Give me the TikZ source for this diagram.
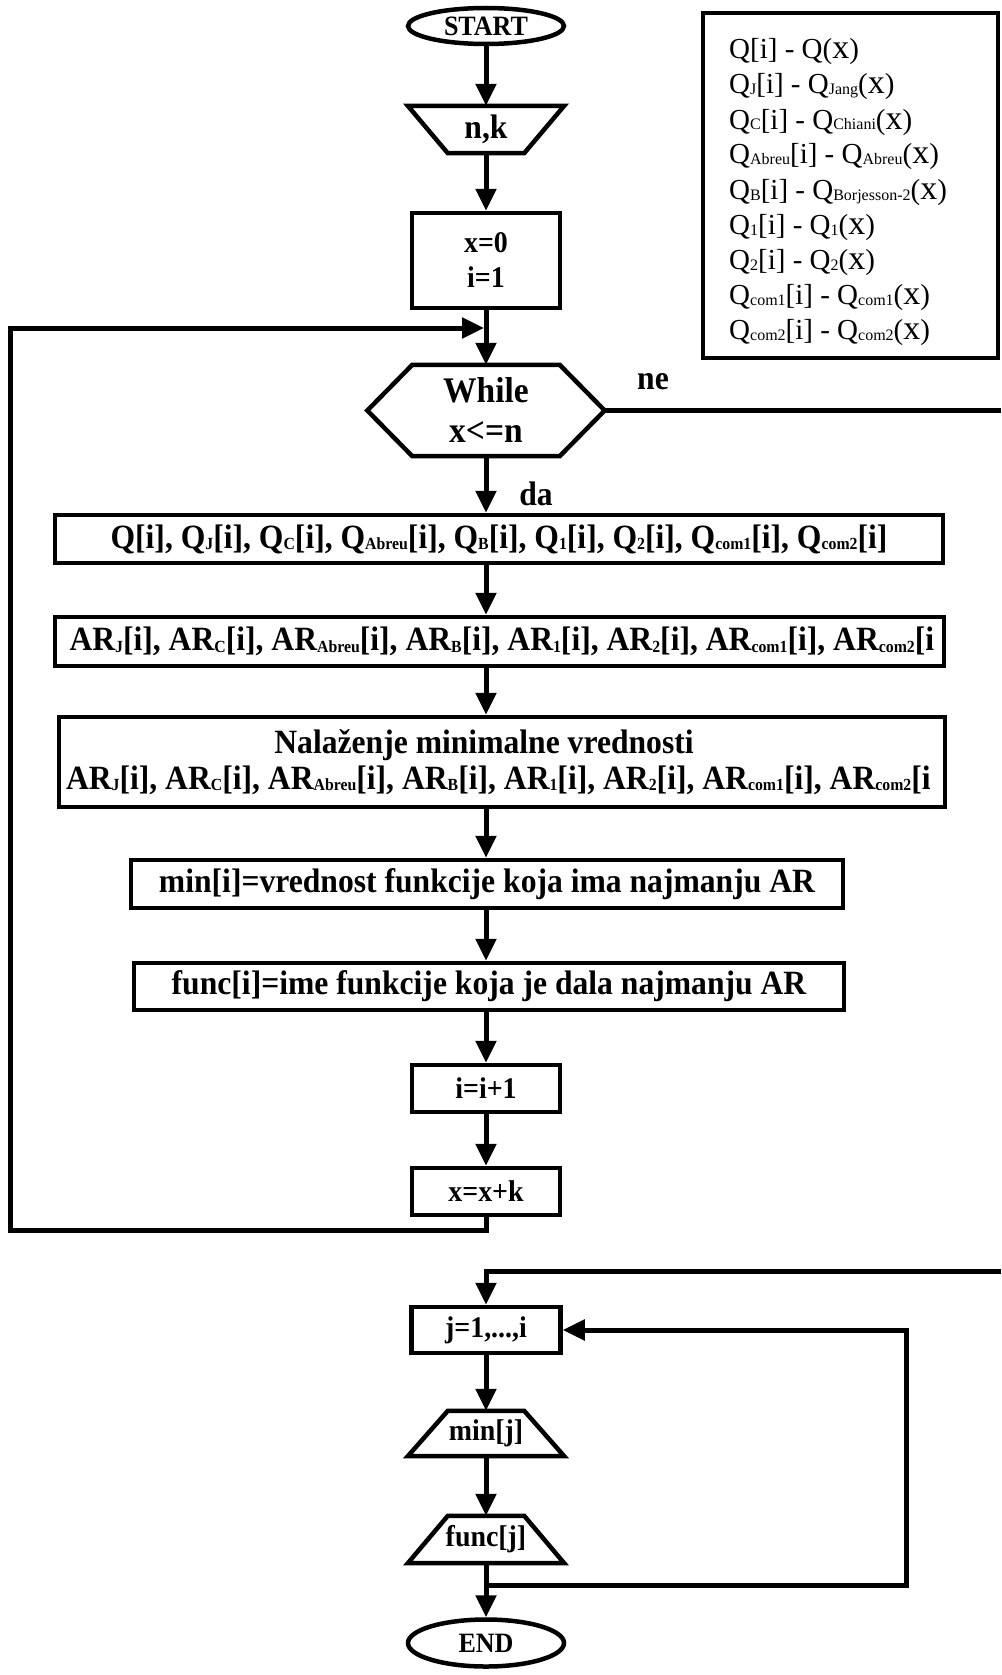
\documentclass[tikz,border=0pt]{standalone}
\usepackage{fontspec}
\setmainfont{Liberation Serif}
\newfontfamily\bc{Liberation Serif}[FakeStretch=0.93]
\usetikzlibrary{arrows.meta,shapes.geometric}
\newcommand\ls[1]{\raisebox{-1pt}{\fontsize{16}{16}\selectfont #1}}
\newcommand\bs[1]{\raisebox{-1.5pt}{\fontsize{17}{17}\selectfont #1}}
\newcommand\bx{{\fontsize{34}{34}\selectfont x}}
\begin{document}
\begin{tikzpicture}[x=1pt,y=-1pt,
  bt/.style={font={\bc\bfseries\fontsize{34}{36}\selectfont}},
  st/.style={font={\bc\bfseries\fontsize{30}{35}\selectfont}},
  bxx/.style={draw, line width=4.5pt, inner sep=0pt},
  shp/.style={inner sep=0pt},
  ln/.style={line width=5pt},
  arr/.style={line width=5pt,-{Triangle[length=22pt,width=20pt]}},
  lg/.style={anchor=base west, inner sep=0pt, font={\fontsize{29}{35}\selectfont}},
  bord/.style={line width=4.5pt, line join=miter}]
\useasboundingbox (0,0) rectangle (1001,1675);
\fill[white] (0,0) rectangle (1001,1675);

% ---- legend ----
\node[draw, line width=4pt, minimum width=295pt, minimum height=345pt, inner sep=0pt] (leg) at (850.5,185.5) {};
\node[lg] (l1) at (729,59)  {Q[i] - Q(\bx)};
\node[lg] (l2) at (729,94)  {Q\ls{J}[i] - Q\ls{Jang}(\bx)};
\node[lg] (l3) at (729,129) {Q\ls{C}[i] - Q\ls{Chiani}(\bx)};
\node[lg] (l4) at (729,164) {Q\ls{Abreu}[i] - Q\ls{Abreu}(\bx)};
\node[lg] (l5) at (729,199) {Q\ls{B}[i] - Q\ls{Borjesson-2}(\bx)};
\node[lg] (l6) at (729,234) {Q\ls{1}[i] - Q\ls{1}(\bx)};
\node[lg] (l7) at (729,269) {Q\ls{2}[i] - Q\ls{2}(\bx)};
\node[lg] (l8) at (729,304) {Q\ls{com1}[i] - Q\ls{com1}(\bx)};
\node[lg] (l9) at (729,339) {Q\ls{com2}[i] - Q\ls{com2}(\bx)};

% ---- main loop ----
\node[draw, ellipse, line width=4.5pt, inner sep=0pt, minimum width=156pt, minimum height=36pt,
      font={\bc\bfseries\fontsize{28}{30}\selectfont}] (start) at (486,26) {START};

\node[shp, bt, minimum width=156pt, minimum height=47pt] (nk) at (486,129.5) {n,k};
\draw[bord] (nk.north west) -- (nk.north east) -- ([xshift=-40pt]nk.south east)
  -- ([xshift=40pt]nk.south west) -- cycle;

\node[bxx, st, align=center, minimum width=148pt, minimum height=95pt] (init) at (486,260.5) {x=0\\i=1};

\coordinate (jn) at (486,328);

\node[shp, align=center, minimum width=237pt, minimum height=91pt,
      font={\bc\bfseries\fontsize{36}{40}\selectfont}] (wh) at (486,410.5) {While\\x<=n};
\draw[bord] (wh.west) -- ([xshift=45pt]wh.north west) -- ([xshift=-45pt]wh.north east)
  -- (wh.east) -- ([xshift=-45pt]wh.south east) -- ([xshift=45pt]wh.south west) -- cycle;

\node[bt] (ne) at (653,382) {ne};
\node[bt] (da) at (536,494) {da};

\node[bxx, bt, minimum width=888pt, minimum height=48pt] (qb) at (499,539)
  {Q[i], Q\bs{J}[i], Q\bs{C}[i], Q\bs{Abreu}[i], Q\bs{B}[i], Q\bs{1}[i], Q\bs{2}[i], Q\bs{com1}[i], Q\bs{com2}[i]};

\node[bxx, bt, minimum width=889pt, minimum height=49pt] (ab) at (499.5,641.5)
  {\makebox[880pt][l]{\hspace*{10pt}AR\bs{J}[i], AR\bs{C}[i], AR\bs{Abreu}[i], AR\bs{B}[i], AR\bs{1}[i], AR\bs{2}[i], AR\bs{com1}[i], AR\bs{com2}[i}};

\node[bxx, bt, align=center, minimum width=886pt, minimum height=90pt] (nal) at (502,762)
  {\makebox[880pt][c]{Nalaženje minimalne vrednosti\hspace*{36pt}}\\
   \makebox[880pt][l]{\hspace*{4pt}AR\bs{J}[i], AR\bs{C}[i], AR\bs{Abreu}[i], AR\bs{B}[i], AR\bs{1}[i], AR\bs{2}[i], AR\bs{com1}[i], AR\bs{com2}[i}};

\node[bxx, bt, minimum width=712pt, minimum height=48pt] (mb) at (487,884)
  {min[i]=vrednost funkcije koja ima najmanju AR};

\node[bxx, bt, minimum width=710pt, minimum height=47pt] (fb) at (489,986.5)
  {func[i]=ime funkcije koja je dala najmanju AR};

\node[bxx, st, minimum width=148pt, minimum height=47pt] (inc) at (486,1088.5) {i=i+1};
\node[bxx, st, minimum width=148pt, minimum height=47pt] (xk) at (486,1191.5) {x=x+k};

\coordinate (lb) at (486,1230);
\coordinate (lbl) at (10,1230);
\coordinate (ltl) at (10,328);
\coordinate (neR) at (1001,410.5);
\coordinate (retR) at (1001,1271);
\coordinate (rc) at (486,1271);

% ---- output loop ----
\node[bxx, st, minimum width=149pt, minimum height=46pt] (jb) at (486,1330) {j=1,...,i};

\node[shp, st, minimum width=156pt, minimum height=45pt] (mj) at (486,1433.5) {min[j]};
\draw[bord] (mj.south west) -- (mj.south east) -- ([xshift=-40pt]mj.north east)
  -- ([xshift=40pt]mj.north west) -- cycle;

\node[shp, st, minimum width=156pt, minimum height=47pt] (fj) at (486,1539.5) {func[j]};
\draw[bord] (fj.south west) -- (fj.south east) -- ([xshift=-40pt]fj.north east)
  -- ([xshift=40pt]fj.north west) -- cycle;

\node[draw, ellipse, line width=4.5pt, inner sep=0pt, minimum width=156pt, minimum height=47pt,
      font={\bc\bfseries\fontsize{28}{30}\selectfont}] (endn) at (486,1643) {END};

\coordinate (fjj) at (486,1585);
\coordinate (rb) at (906,1585);
\coordinate (rt) at (906,1330);

% ---- connectors ----
\draw[arr] (start.south) -- (nk.north);
\draw[arr] (nk.south) -- (init.north);
\draw[ln] (init.south) -- (jn);
\draw[arr] (jn) -- (wh.north);
\draw[ln] (wh.east) -- (neR);
\draw[arr] (wh.south) -- (wh.south |- qb.north);
\draw[arr] (wh.south |- qb.south) -- (wh.south |- ab.north);
\draw[arr] (wh.south |- ab.south) -- (wh.south |- nal.north);
\draw[arr] (wh.south |- nal.south) -- (wh.south |- mb.north);
\draw[arr] (wh.south |- mb.south) -- (wh.south |- fb.north);
\draw[arr] (wh.south |- fb.south) -- (inc.north);
\draw[arr] (inc.south) -- (xk.north);
\draw[arr, shorten >=2pt] (xk.south) -- (lb) -- (lbl) -- (ltl) -- (jn);
\draw[arr] (retR) -- (rc) -- (jb.north);
\draw[arr] (jb.south) -- (mj.north);
\draw[arr] (mj.south) -- (fj.north);
\draw[arr] (fj.south) -- (endn.north);
\draw[arr] (fjj) -- (rb) -- (rt) -- (jb.east);
\end{tikzpicture}
\end{document}
